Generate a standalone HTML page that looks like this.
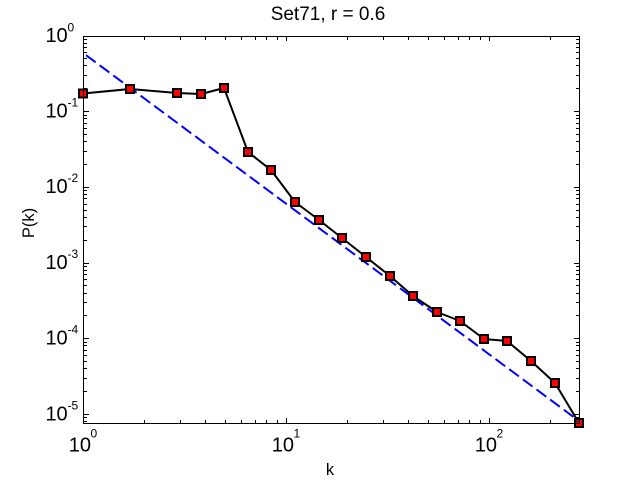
<!DOCTYPE html>
<html>
<head>
<meta charset="utf-8">
<style>
html,body{margin:0;padding:0;background:#fff;}
svg{display:block;}
text{font-family:"Liberation Sans", Arial, sans-serif;fill:#000;}
</style>
</head>
<body>
<svg width="640" height="480" viewBox="0 0 640 480" xmlns="http://www.w3.org/2000/svg">
<rect x="0" y="0" width="640" height="480" fill="#fff"/>

<!-- blue dashed fit line -->
<line x1="86" y1="55.2" x2="579" y2="421" stroke="#0000ff" stroke-width="2" stroke-dasharray="12 5"/>

<!-- black data line -->
<polyline fill="none" stroke="#000" stroke-width="2" stroke-linejoin="round"
points="83,93.5 130,89 177,93 201,94 224,88 248,152 271,170 295,202 319,220 342,238 366,257 390,276 413,296 437,312 460,321 484,339 507,341 531,361 555,383 579,423"/>

<!-- markers -->
<g fill="#ff0000" stroke="#000" stroke-width="2">
<rect x="79" y="89.5" width="8" height="8"/>
<rect x="126" y="85" width="8" height="8"/>
<rect x="173" y="89" width="8" height="8"/>
<rect x="197" y="90" width="8" height="8"/>
<rect x="220" y="84" width="8" height="8"/>
<rect x="244" y="148" width="8" height="8"/>
<rect x="267" y="166" width="8" height="8"/>
<rect x="291" y="198" width="8" height="8"/>
<rect x="315" y="216" width="8" height="8"/>
<rect x="338" y="234" width="8" height="8"/>
<rect x="362" y="253" width="8" height="8"/>
<rect x="386" y="272" width="8" height="8"/>
<rect x="409" y="292" width="8" height="8"/>
<rect x="433" y="308" width="8" height="8"/>
<rect x="456" y="317" width="8" height="8"/>
<rect x="480" y="335" width="8" height="8"/>
<rect x="503" y="337" width="8" height="8"/>
<rect x="527" y="357" width="8" height="8"/>
<rect x="551" y="379" width="8" height="8"/>
<rect x="575" y="419" width="8" height="8"/>
</g>

<!-- axes box -->
<g stroke="#000" stroke-width="1" fill="none" shape-rendering="crispEdges">
<rect x="83.5" y="36.5" width="496" height="387"/>
<!-- x major ticks bottom/top -->
<path d="M83.5 423 v-5 M286.5 423 v-5 M489.5 423 v-5 M83.5 36 v5 M286.5 36 v5 M489.5 36 v5"/>
<!-- x minor ticks bottom -->
<path d="M144.5 423v-3 M180.5 423v-3 M205.5 423v-3 M225.5 423v-3 M241.5 423v-3 M255.5 423v-3 M266.5 423v-3 M277.5 423v-3 M347.5 423v-3 M383.5 423v-3 M408.5 423v-3 M428.5 423v-3 M444.5 423v-3 M458.5 423v-3 M469.5 423v-3 M480.5 423v-3 M550.5 423v-3"/>
<!-- x minor ticks top -->
<path d="M144.5 37v3 M180.5 37v3 M205.5 37v3 M225.5 37v3 M241.5 37v3 M255.5 37v3 M266.5 37v3 M277.5 37v3 M347.5 37v3 M383.5 37v3 M408.5 37v3 M428.5 37v3 M444.5 37v3 M458.5 37v3 M469.5 37v3 M480.5 37v3 M550.5 37v3"/>
<!-- y major ticks left/right -->
<path d="M84 111.5h5 M84 187.5h5 M84 263.5h5 M84 338.5h5 M84 414.5h5 M579 111.5h-5 M579 187.5h-5 M579 263.5h-5 M579 338.5h-5 M579 414.5h-5"/>
<!-- y minor ticks left -->
<path d="M84 88.5h3 M84 75.5h3 M84 65.5h3 M84 58.5h3 M84 52.5h3 M84 47.5h3 M84 43.5h3 M84 39.5h3
M84 164.5h3 M84 151.5h3 M84 141.5h3 M84 134.5h3 M84 128.5h3 M84 123.5h3 M84 118.5h3 M84 115.5h3
M84 240.5h3 M84 226.5h3 M84 217.5h3 M84 210.5h3 M84 204.5h3 M84 198.5h3 M84 194.5h3 M84 190.5h3
M84 315.5h3 M84 302.5h3 M84 293.5h3 M84 285.5h3 M84 279.5h3 M84 274.5h3 M84 270.5h3 M84 266.5h3
M84 391.5h3 M84 378.5h3 M84 368.5h3 M84 361.5h3 M84 355.5h3 M84 350.5h3 M84 345.5h3 M84 342.5h3
M84 421.5h3 M84 417.5h3"/>
<!-- y minor ticks right -->
<path d="M579 88.5h-3 M579 75.5h-3 M579 65.5h-3 M579 58.5h-3 M579 52.5h-3 M579 47.5h-3 M579 43.5h-3 M579 39.5h-3
M579 164.5h-3 M579 151.5h-3 M579 141.5h-3 M579 134.5h-3 M579 128.5h-3 M579 123.5h-3 M579 118.5h-3 M579 115.5h-3
M579 240.5h-3 M579 226.5h-3 M579 217.5h-3 M579 210.5h-3 M579 204.5h-3 M579 198.5h-3 M579 194.5h-3 M579 190.5h-3
M579 315.5h-3 M579 302.5h-3 M579 293.5h-3 M579 285.5h-3 M579 279.5h-3 M579 274.5h-3 M579 270.5h-3 M579 266.5h-3
M579 391.5h-3 M579 378.5h-3 M579 368.5h-3 M579 361.5h-3 M579 355.5h-3 M579 350.5h-3 M579 345.5h-3 M579 342.5h-3
M579 421.5h-3 M579 417.5h-3"/>
</g>

<!-- y tick labels -->
<g font-size="20" text-anchor="end">
<text x="67.7" y="42">10</text>
<text x="67.7" y="117.5">10</text>
<text x="67.7" y="193.2">10</text>
<text x="67.7" y="268.9">10</text>
<text x="67.7" y="344.6">10</text>
<text x="67.7" y="420.3">10</text>
</g>
<g font-size="12" text-anchor="start">
<text x="67.5" y="31.5">0</text>
<text x="67.5" y="106.5">-1</text>
<text x="67.5" y="182.2">-2</text>
<text x="67.5" y="257.9">-3</text>
<text x="67.5" y="333.6">-4</text>
<text x="67.5" y="409.3">-5</text>
</g>

<!-- x tick labels -->
<g font-size="20" text-anchor="end">
<text x="91" y="451.7">10</text>
<text x="294" y="451.7">10</text>
<text x="497" y="451.7">10</text>
</g>
<g font-size="12" text-anchor="start">
<text x="90.5" y="437.5">0</text>
<text x="293.5" y="437.5">1</text>
<text x="496.5" y="437.5">2</text>
</g>

<!-- axis labels -->
<text x="330" y="475" font-size="16.5" text-anchor="middle">k</text>
<text transform="translate(34,223) rotate(-90)" font-size="16.5" text-anchor="middle">P(k)</text>

<!-- title -->
<text x="328" y="20" font-size="19" text-anchor="middle">Set71, r = 0.6</text>
</svg>
</body>
</html>
